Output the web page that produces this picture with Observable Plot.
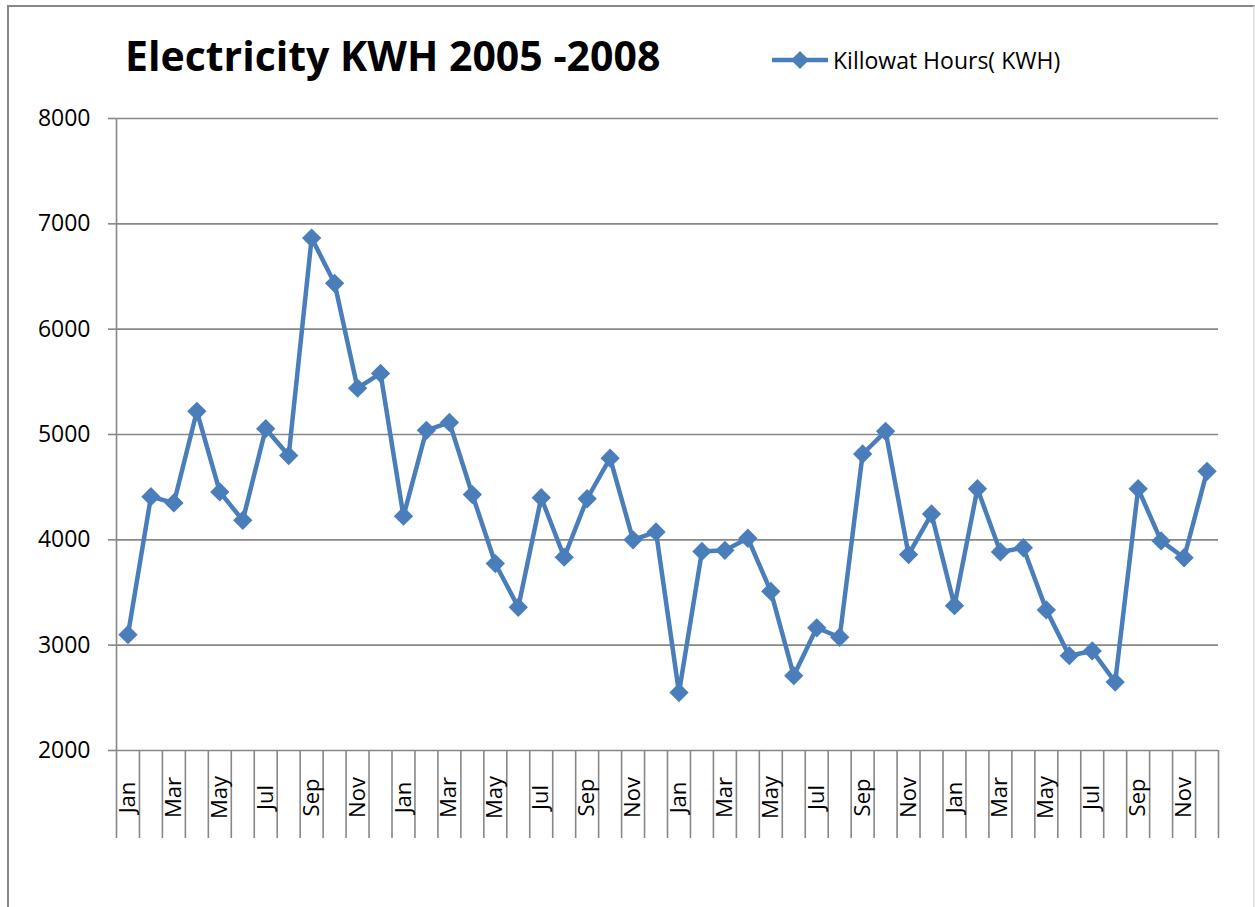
<!DOCTYPE html>
<html>
<head>
<meta charset="utf-8">
<script src="https://cdn.jsdelivr.net/npm/d3@7"></script>
<script src="https://cdn.jsdelivr.net/npm/@observablehq/plot@0.6"></script>
<style>
  html, body { margin: 0; padding: 0; background: #fff; }
  #wrap { position: relative; width: 1255px; height: 907px; overflow: hidden; font-family: "Open Sans", sans-serif; }
  #frame { position: absolute; left: 7px; top: 5px; width: 1244px; height: 940px; border-left: 2px solid #888; border-top: 2px solid #888; border-right: 2px solid #e4e4e4; }
  #title { position: absolute; left: 125px; top: 35px; font-size: 41px; font-weight: 700; color: #000; white-space: nowrap; line-height: 1; }
  #legend { position: absolute; left: 770px; top: 44px; display: flex; align-items: center; font-size: 23px; color: #000; white-space: nowrap; }
  #legend svg { margin-right: 3px; }
  #chart { position: absolute; left: 0; top: 0; }
</style>
</head>
<body>
<div id="wrap">
  <div id="frame"></div>
  <div id="chart"></div>
  <div id="title">Electricity KWH 2005 -2008</div>
  <div id="legend"><svg width="60" height="30"><line x1="2" y1="15" x2="58" y2="15" stroke="#4a7ebb" stroke-width="4.5"/><path d="M30,6 L39,15 L30,24 L21,15 Z" fill="#4a7ebb"/></svg><span>Killowat Hours( KWH)</span></div>
</div>
<script>
const months = ["Jan","Feb","Mar","Apr","May","Jun","Jul","Aug","Sep","Oct","Nov","Dec"];
const years = [2005, 2006, 2007, 2008];
const kwh2005 = [3100, 4410, 4350, 5220, 4455, 4185, 5055, 4800, 6865, 6435, 5440, 5580];
const kwh2006 = [4225, 5040, 5115, 4430, 3775, 3360, 4400, 3835, 4390, 4775, 4000, 4075];
const kwh2007 = [2550, 3890, 3900, 4015, 3510, 2710, 3165, 3075, 4815, 5030, 3860, 4245];
const kwh2008 = [3375, 4485, 3885, 3925, 3335, 2900, 2945, 2650, 4485, 3990, 3830, 4650];
const yTicks = [2000, 3000, 4000, 5000, 6000, 7000, 8000];

const series = [kwh2005, kwh2006, kwh2007, kwh2008];
const data = years.flatMap((yr, yi) => series[yi].map((v, m) => ({i: yi * 12 + m, year: yr, month: months[m], value: v})));
const n = data.length;
const boundaries = d3.range(n + 1).map(k => k - 0.5);
const labelIdx = d3.range(0, n, 2);

const grey = "#878787";
const chart = Plot.plot({
  width: 1255,
  height: 907,
  marginLeft: 116,
  marginRight: 37,
  marginTop: 118,
  marginBottom: 157,
  x: {type: "linear", domain: [-0.5, n - 0.5]},
  y: {domain: [2000, 8000]},
  style: {fontFamily: "'Open Sans', sans-serif", fontSize: "23px", color: "#000", background: "transparent", overflow: "visible"},
  marks: [
    Plot.gridY(yTicks, {stroke: grey, strokeOpacity: 1, strokeWidth: 1.6}),
    Plot.axisY(yTicks, {tickSize: 8, tickPadding: 18, tickFormat: d3.format("d"), label: null, stroke: grey, strokeWidth: 1.6, fontSize: 23}),
    Plot.ruleX([-0.5], {y1: 2000, y2: 8000, stroke: grey, strokeWidth: 1.6}),
    Plot.axisX(boundaries, {tickSize: 88, tickFormat: () => "", label: null, stroke: grey, strokeWidth: 1.6}),
    Plot.axisX(labelIdx, {tickSize: 0, tickFormat: k => months[k % 12], tickRotate: -90, textAnchor: "middle", lineAnchor: "middle", tickPadding: 0, dy: 47, label: null, fontSize: 22}),
    Plot.line(data, {x: "i", y: "value", stroke: "#4a7ebb", strokeWidth: 4.5}),
    Plot.dot(data, {x: "i", y: "value", symbol: "diamond2", r: 8.7, fill: "#4a7ebb", stroke: "none"})
  ]
});
document.getElementById("chart").appendChild(chart);
</script>
</body>
</html>
